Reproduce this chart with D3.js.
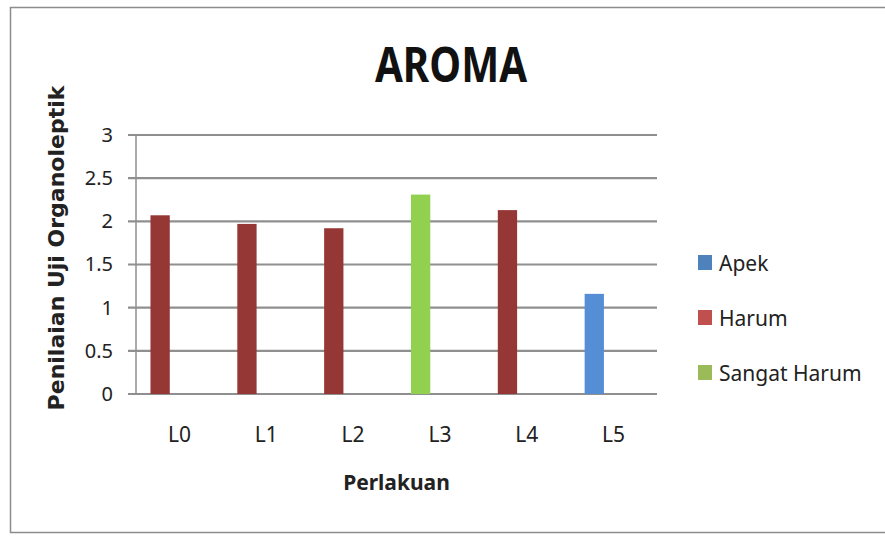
<!DOCTYPE html>
<html>
<head>
<meta charset="utf-8">
<script src="https://cdn.jsdelivr.net/npm/d3@7"></script>
<style>
  body { margin: 0; background: #fff; }
  text { font-family: "Noto Sans", "Open Sans", sans-serif; }
</style>
</head>
<body>
<div id="chart"></div>
<script>
// data
const categories = ["L0", "L1", "L2", "L3", "L4", "L5"];
const values = [2.07, 1.97, 1.92, 2.31, 2.13, 1.16];
const classes = ["Harum", "Harum", "Harum", "Sangat Harum", "Harum", "Apek"];
const seriesNames = ["Apek", "Harum", "Sangat Harum"];
const yTicks = [0, 0.5, 1, 1.5, 2, 2.5, 3];

const barColor = { "Apek": "#558ed5", "Harum": "#953735", "Sangat Harum": "#92d050" };
const legendColor = { "Apek": "#4f81bd", "Harum": "#c0504d", "Sangat Harum": "#9bbb59" };

const W = 885, H = 539;
const margin = ({top: 135, right: 228, bottom: 145, left: 136});
const width = W - margin.left - margin.right;
const height = H - margin.top - margin.bottom;

const root = d3.select("#chart").append("svg")
  .attr("width", W)
  .attr("height", H);

// outer chart border
root.append("rect")
  .attr("x", 10.5).attr("y", 7.5)
  .attr("width", 900).attr("height", 525)
  .attr("fill", "none")
  .attr("stroke", "#8c8c8c")
  .attr("stroke-width", 1.5);

const svg = root.append("g")
  .attr("transform", `translate(${margin.left},${margin.top})`);

const x0 = d3.scaleBand().domain(categories).range([0, width]).padding(0);
// 3-slot cluster (Excel gap width 150%); each category only has its value in the first slot
const x1 = d3.scaleBand().domain(d3.range(3)).range([0, x0.bandwidth()])
  .paddingInner(0).paddingOuter(0.75);
const y = d3.scaleLinear().domain([0, 3]).range([height, 0]);

// gridlines
svg.append("g")
  .selectAll("line")
  .data(yTicks)
  .join("line")
  .attr("x1", -8).attr("x2", width)
  .attr("y1", d => y(d)).attr("y2", d => y(d))
  .attr("stroke", "#8f8f8f")
  .attr("stroke-width", 2.2);

// y axis line
svg.append("line")
  .attr("x1", 0).attr("x2", 0)
  .attr("y1", 0).attr("y2", height)
  .attr("stroke", "#8f8f8f")
  .attr("stroke-width", 1.5);

const yAxis = d3.axisLeft(y).tickValues(yTicks).tickSize(0).tickPadding(23)
  .tickFormat(d => String(d));
svg.append("g")
  .attr("class", "axis y-axis")
  .call(yAxis)
  .call(g => g.select(".domain").remove())
  .selectAll("text")
  .attr("font-size", 20)
  .attr("fill", "#222");

const xAxis = d3.axisBottom(x0).tickSize(0).tickPadding(33);
svg.append("g")
  .attr("class", "axis x-axis")
  .attr("transform", `translate(0,${height})`)
  .call(xAxis)
  .call(g => g.select(".domain").remove())
  .selectAll("text")
  .attr("font-size", 21)
  .attr("fill", "#222");

// bars
svg.append("g")
  .selectAll("rect")
  .data(categories.map((c, i) => ({cat: c, value: values[i], cls: classes[i]})))
  .join("rect")
  .attr("x", d => x0(d.cat) + x1(0))
  .attr("width", x1.bandwidth())
  .attr("y", d => y(d.value))
  .attr("height", d => y(0) - y(d.value))
  .attr("fill", d => barColor[d.cls]);

// titles
root.append("text")
  .attr("x", 451).attr("y", 82)
  .attr("text-anchor", "middle")
  .attr("font-size", 48)
  .attr("font-weight", "bold")
  .attr("textLength", 152)
  .attr("lengthAdjust", "spacingAndGlyphs")
  .attr("fill", "#111")
  .text("AROMA");

root.append("text")
  .attr("x", margin.left + width / 2).attr("y", 490)
  .attr("text-anchor", "middle")
  .attr("font-size", 21)
  .attr("font-weight", "bold")
  .attr("fill", "#222")
  .text("Perlakuan");

root.append("text")
  .attr("transform", "translate(64,248) rotate(-90)")
  .attr("text-anchor", "middle")
  .attr("font-size", 22)
  .attr("font-weight", "bold")
  .style("font-family", "'DejaVu Sans', sans-serif")
  .attr("fill", "#222")
  .text("Penilaian Uji Organoleptik");

// legend
const legend = root.append("g")
  .attr("transform", "translate(698,255)")
  .selectAll("g")
  .data(seriesNames)
  .join("g")
  .attr("transform", (d, i) => `translate(0,${i * 55})`);
legend.append("rect")
  .attr("width", 14).attr("height", 15)
  .attr("fill", d => legendColor[d]);
legend.append("text")
  .attr("x", 21).attr("y", 16)
  .attr("font-size", 21)
  .attr("fill", "#222")
  .text(d => d);
</script>
</body>
</html>
